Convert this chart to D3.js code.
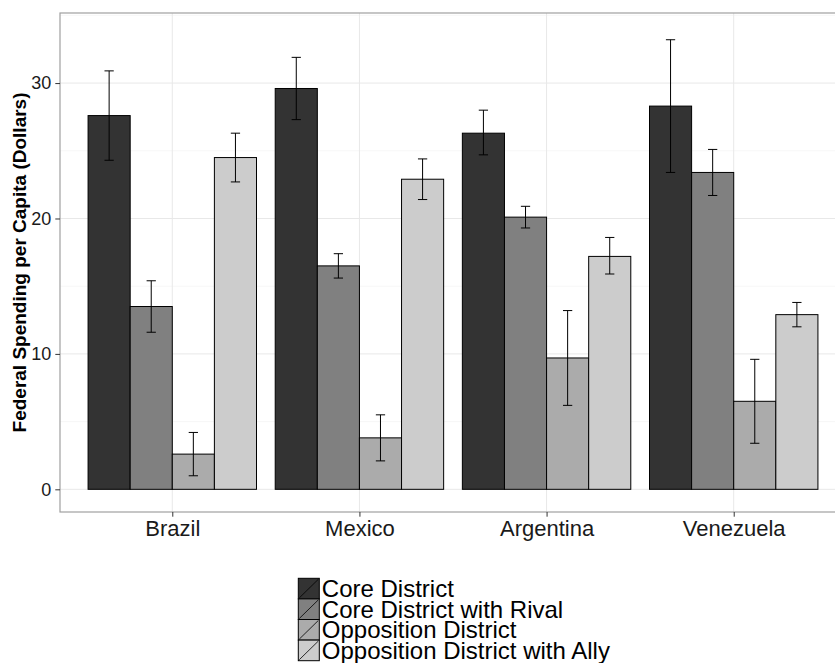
<!DOCTYPE html>
<html>
<head>
<meta charset="utf-8">
<script src="https://cdn.jsdelivr.net/npm/d3@7"></script>
<style>
  html, body { margin: 0; padding: 0; background: #fff; }
  svg { display: block; font-family: "Liberation Sans", Arial, sans-serif; }
</style>
</head>
<body>
<svg id="chart" width="835" height="663"></svg>
<script>
// ---- data ----
const countries = ["Brazil", "Mexico", "Argentina", "Venezuela"];
const series = ["Core District", "Core District with Rival", "Opposition District", "Opposition District with Ally"];
const colors = ["#333333", "#808080", "#ababab", "#cccccc"];
// values by series, in country order
const coreValues      = [27.6, 29.6, 26.3, 28.3];
const rivalValues     = [13.5, 16.5, 20.1, 23.4];
const oppValues       = [2.6, 3.8, 9.7, 6.5];
const allyValues      = [24.5, 22.9, 17.2, 12.9];
const coreLower  = [24.3, 27.3, 24.7, 23.4];
const coreUpper  = [30.9, 31.9, 28.0, 33.2];
const rivalLower = [11.6, 15.6, 19.3, 21.7];
const rivalUpper = [15.4, 17.4, 20.9, 25.1];
const oppLower   = [1.0, 2.1, 6.2, 3.4];
const oppUpper   = [4.2, 5.5, 13.2, 9.6];
const allyLower  = [22.7, 21.4, 15.9, 12.0];
const allyUpper  = [26.3, 24.4, 18.6, 13.8];
const yTicks = [0, 10, 20, 30];
const yMinor = [5, 15, 25, 35];
const yTitle = "Federal Spending per Capita (Dollars)";

const valueSets = [coreValues, rivalValues, oppValues, allyValues];
const lowerSets = [coreLower, rivalLower, oppLower, allyLower];
const upperSets = [coreUpper, rivalUpper, oppUpper, allyUpper];

const rows = [];
countries.forEach((c, ci) => {
  series.forEach((s, si) => {
    rows.push({country: c, series: s, value: valueSets[si][ci], lo: lowerSets[si][ci], hi: upperSets[si][ci]});
  });
});

// ---- layout ----
const svg = d3.select("#chart");
const panel = {left: 60, top: 13, right: 846, bottom: 512};

const x = d3.scalePoint().domain(countries).range([panel.left, panel.right]).padding(0.6);
const step = x.step();
const xInner = d3.scaleBand().domain(series).range([-0.45 * step, 0.45 * step]).padding(0);
const y = d3.scaleLinear().domain([-1.675, 35.175]).range([panel.bottom, panel.top]);
const color = d3.scaleOrdinal().domain(series).range(colors);

// panel background
svg.append("rect")
  .attr("x", panel.left).attr("y", panel.top)
  .attr("width", panel.right - panel.left).attr("height", panel.bottom - panel.top)
  .attr("fill", "#fff");

// minor grid
svg.append("g").selectAll("line").data(yMinor).join("line")
  .attr("x1", panel.left).attr("x2", panel.right)
  .attr("y1", d => y(d)).attr("y2", d => y(d))
  .attr("stroke", "#f7f7f7").attr("stroke-width", 1);

// major grid
svg.append("g").selectAll("line").data(yTicks).join("line")
  .attr("x1", panel.left).attr("x2", panel.right)
  .attr("y1", d => y(d)).attr("y2", d => y(d))
  .attr("stroke", "#e8e8e8").attr("stroke-width", 1);
svg.append("g").selectAll("line").data(countries).join("line")
  .attr("x1", d => x(d)).attr("x2", d => x(d))
  .attr("y1", panel.top).attr("y2", panel.bottom)
  .attr("stroke", "#e8e8e8").attr("stroke-width", 1);

// bars
svg.append("g").selectAll("rect").data(rows).join("rect")
  .attr("x", d => x(d.country) + xInner(d.series))
  .attr("width", xInner.bandwidth())
  .attr("y", d => y(d.value))
  .attr("height", d => y(0) - y(d.value))
  .attr("fill", d => color(d.series))
  .attr("stroke", "#000").attr("stroke-width", 1);

// error bars
const capW = xInner.bandwidth() * 0.22;
const eb = svg.append("g").selectAll("g").data(rows).join("g")
  .attr("stroke", "#000").attr("stroke-width", 1);
eb.append("line")
  .attr("x1", d => x(d.country) + xInner(d.series) + xInner.bandwidth() / 2)
  .attr("x2", d => x(d.country) + xInner(d.series) + xInner.bandwidth() / 2)
  .attr("y1", d => y(d.lo)).attr("y2", d => y(d.hi));
eb.append("line")
  .attr("x1", d => x(d.country) + xInner(d.series) + xInner.bandwidth() / 2 - capW / 2)
  .attr("x2", d => x(d.country) + xInner(d.series) + xInner.bandwidth() / 2 + capW / 2)
  .attr("y1", d => y(d.hi)).attr("y2", d => y(d.hi));
eb.append("line")
  .attr("x1", d => x(d.country) + xInner(d.series) + xInner.bandwidth() / 2 - capW / 2)
  .attr("x2", d => x(d.country) + xInner(d.series) + xInner.bandwidth() / 2 + capW / 2)
  .attr("y1", d => y(d.lo)).attr("y2", d => y(d.lo));

// panel border
svg.append("rect")
  .attr("x", panel.left).attr("y", panel.top)
  .attr("width", panel.right - panel.left).attr("height", panel.bottom - panel.top)
  .attr("fill", "none").attr("stroke", "#a0a0a0").attr("stroke-width", 1.2);

// y axis
const yAxis = d3.axisLeft(y).tickValues(yTicks).tickSize(4.7).tickPadding(4).tickFormat(d3.format("d"));
const gy = svg.append("g").attr("transform", `translate(${panel.left},0)`).call(yAxis);
gy.select(".domain").remove();
gy.selectAll(".tick line").attr("stroke", "#333");
gy.selectAll(".tick text").attr("font-size", 18).attr("fill", "#1a1a1a")
  .attr("font-family", "Liberation Sans, Arial, sans-serif");

// x axis
const xAxis = d3.axisBottom(x).tickSize(4.7).tickPadding(4);
const gx = svg.append("g").attr("transform", `translate(0,${panel.bottom})`).call(xAxis);
gx.select(".domain").remove();
gx.selectAll(".tick line").attr("stroke", "#333");
gx.selectAll(".tick text").attr("font-size", 22).attr("fill", "#1a1a1a")
  .attr("font-family", "Liberation Sans, Arial, sans-serif");

// y title
svg.append("text")
  .attr("transform", `translate(26,${(panel.top + panel.bottom) / 2}) rotate(-90)`)
  .attr("text-anchor", "middle")
  .attr("font-size", 19).attr("font-weight", "bold").attr("fill", "#000")
  .text(yTitle);

// legend
const legX = 298.3, legY = 578.3, keyW = 21, keyH = 20.6;
const leg = svg.append("g").selectAll("g").data(series).join("g")
  .attr("transform", (d, i) => `translate(${legX},${legY + i * keyH})`);
leg.append("rect")
  .attr("width", keyW).attr("height", keyH)
  .attr("fill", d => color(d)).attr("stroke", "#000").attr("stroke-width", 1);
leg.append("line")
  .attr("x1", 1).attr("y1", keyH - 1).attr("x2", keyW - 1).attr("y2", 1)
  .attr("stroke", "#000").attr("stroke-width", 0.8);
leg.append("text")
  .attr("x", keyW + 2.5).attr("y", keyH / 2 + 8.3)
  .attr("font-size", 24).attr("fill", "#000")
  .text(d => d);
</script>
</body>
</html>
